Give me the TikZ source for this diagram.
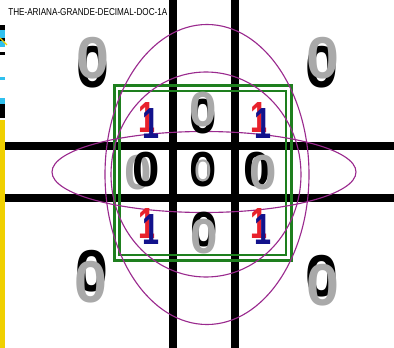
\documentclass[tikz,border=0pt]{standalone}
\usepackage{fontspec}
\setmainfont{Liberation Sans}
\usepackage{graphicx}
\definecolor{boxgreen}{HTML}{1E7F1E}
\definecolor{ringpurple}{HTML}{9A2A8E}
\definecolor{ghostgray}{HTML}{A9A9A9}
\definecolor{onered}{HTML}{E8222C}
\definecolor{oneblue}{HTML}{12128C}
\definecolor{tapeyellow}{HTML}{F0D000}
\definecolor{tapeblue}{HTML}{30C0EE}
\newcommand{\thinone}{\scalebox{0.7}[1]{1}}
\begin{document}
\begin{tikzpicture}[x=0.025cm,y=-0.025cm,
	bar/.style={line width=5pt},
	ring/.style={ringpurple,line width=0.8pt},
	bigzero/.style={inner sep=0pt,font=\bfseries\fontsize{42}{42}\selectfont},
	midzero/.style={inner sep=0pt,font=\bfseries\fontsize{35}{35}\selectfont},
	tinyzero/.style={inner sep=0pt,ghostgray,font=\fontsize{22}{22}\selectfont},
	onedigit/.style={inner sep=0pt,font=\bfseries\fontsize{31}{31}\selectfont}]
	\useasboundingbox (0,0) rectangle (394,348);
	% left edge strip
	\fill[black] (0,25) rectangle (5,30);
	\fill[tapeblue] (0,30) rectangle (5,38);
	\fill[black] (0,38) rectangle (5,41);
	\fill[tapeblue] (0,41) rectangle (5,47);
	\draw[tapeyellow,line width=1pt] (0,38) -- (7,45);
	\fill[black] (0,52) rectangle (5,55);
	\fill[tapeblue] (0,77) rectangle (5,80);
	\fill[tapeblue] (0,98) rectangle (5,104);
	\fill[black] (0,104) rectangle (5,118);
	\fill[tapeyellow] (0,120) rectangle (5,348);
	\node[anchor=west,inner sep=0pt] (title) at (8,12) {\resizebox{3.975cm}{5pt}{THE-ARIANA-GRANDE-DECIMAL-DOC-1A}};
	% grid
	\draw[bar] (173,0) -- (173,348);
	\draw[bar] (235,0) -- (235,348);
	\draw[bar] (5,146) -- (394,146);
	\draw[bar] (5,198) -- (394,198);
	% frame
	\draw[boxgreen,line width=2.2pt] (114.5,85.5) rectangle (291.5,260.5);
	\draw[boxgreen,line width=1.5pt] (119.5,91) rectangle (286,255);
	% rings
	\draw[ring] (204,172) ellipse (152 and 40.5);
	\draw[ring] (207,174.5) ellipse (102 and 150);
	\draw[ring] (206,174.5) ellipse (95 and 102.5);
	% corner zeros
	\node[bigzero] (tl0) at (93,67) {0};
	\node[bigzero,ghostgray] (tl1) at (93,58) {0};
	\node[bigzero] (tr0) at (322,67) {0};
	\node[bigzero,ghostgray] (tr1) at (323,58) {0};
	\node[bigzero] (bl0) at (92,271) {0};
	\node[bigzero,ghostgray] (bl1) at (91,282) {0};
	\node[bigzero] (br0) at (322,276) {0};
	\node[bigzero,ghostgray] (br1) at (323,285) {0};
	% inner zeros
	\node[midzero] (tm0) at (203,117) {0};
	\node[midzero,ghostgray] (tm1) at (203,110) {0};
	\node[midzero,ghostgray] (ml1) at (138,173) {0};
	\node[midzero] (ml0) at (146,170) {0};
	\node[midzero] (mm0) at (203,170) {0};
	\node[tinyzero] (mm1) at (203,171) {0};
	\node[midzero] (mr0) at (257,170) {0};
	\node[midzero,ghostgray] (mr1) at (263,173) {0};
	\node[midzero] (bm0) at (204,230) {0};
	\node[midzero,ghostgray] (bm1) at (204,237) {0};
	% ones
	\node[onedigit,onered] (tlr) at (147,118) {\thinone};
	\node[onedigit,oneblue] (tlb) at (151,124) {\thinone};
	\node[onedigit,onered] (trr) at (259,118) {\thinone};
	\node[onedigit,oneblue] (trb) at (263,124) {\thinone};
	\node[onedigit,onered] (blr) at (147,224) {\thinone};
	\node[onedigit,oneblue] (blb) at (151,230) {\thinone};
	\node[onedigit,onered] (brr) at (259,224) {\thinone};
	\node[onedigit,oneblue] (brb) at (263,230) {\thinone};
\end{tikzpicture}
\end{document}
